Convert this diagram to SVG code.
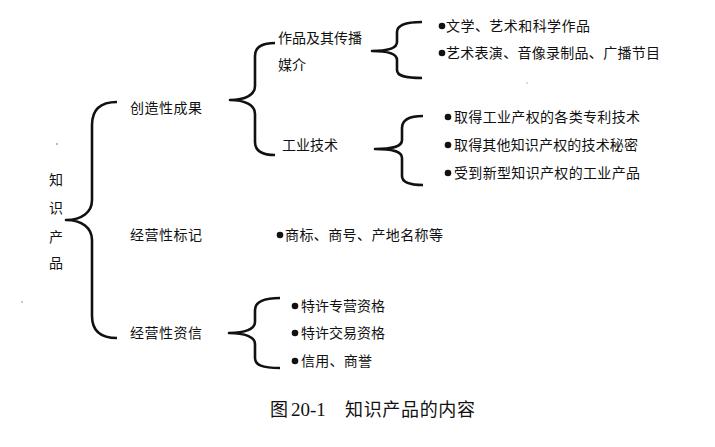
<svg xmlns="http://www.w3.org/2000/svg" width="715" height="447" viewBox="0 0 715 447">
<style>
.t{font-family:"Noto Sans CJK SC","Noto Sans CJK TC",sans-serif;font-size:14px;fill:#111}
.br{fill:none;stroke:#111;stroke-width:2.6;stroke-linecap:butt;stroke-linejoin:round}
.b{fill:#111}
.cap{font-family:"Noto Sans CJK SC",sans-serif;font-size:18px;fill:#111}
.num{font-family:"Liberation Serif",serif;font-size:19px;fill:#111}
</style>
<rect width="715" height="447" fill="#fff"/>
<g id="connectors">
<path class="br" d="M117,102 C100,102 92,110 92,125 L92,200 C92,212 82,220 66,220 C82,220 92,228 92,240 L92,316 C92,330 100,338 117,338"/>
<path class="br" d="M275,43 C262,43 255,47 255,56 L255,86 C255,95 245,100 230,100 C245,100 255,105 255,114 L255,142 C255,151 262,155 275,155"/>
<path class="br" d="M422,22 C405,22 397,25 397,32 L397,42 C397,48 390,51 372,51 C390,51 397,54 397,60 L397,70 C397,76 405,78 422,78"/>
<path class="br" d="M423,116 C408,116 402,120 402,128 L402,140 C402,146 395,149 375,149 C395,149 402,152 402,158 L402,176 C402,182 408,185 423,185"/>
<path class="br" d="M280,298 C262,298 255,302 255,310 L255,322 C255,329 245,333 229,333 C245,333 255,337 255,344 L255,358 C255,365 262,368 280,368"/>
</g>
<g id="root">
<text class="t" x="56" y="185" text-anchor="middle">知</text>
<text class="t" x="56" y="213" text-anchor="middle">识</text>
<text class="t" x="56" y="242" text-anchor="middle">产</text>
<text class="t" x="56" y="268" text-anchor="middle">品</text>
</g>
<g id="chuangzao"><text class="t" x="130" y="113" textLength="72" lengthAdjust="spacing">创造性成果</text></g>
<g id="biaoji"><text class="t" x="130" y="240" textLength="72" lengthAdjust="spacing">经营性标记</text></g>
<g id="zixin"><text class="t" x="130" y="338" textLength="72" lengthAdjust="spacing">经营性资信</text></g>
<g id="zuopin">
<text class="t" x="278" y="43" textLength="84" lengthAdjust="spacing">作品及其传播</text>
<text class="t" x="278" y="70">媒介</text>
</g>
<g id="gongye"><text class="t" x="282" y="150" textLength="56" lengthAdjust="spacing">工业技术</text></g>
<g id="item-wenxue"><circle class="b" cx="442" cy="26" r="3.3"/><text class="t" x="446" y="31" textLength="144" lengthAdjust="spacing">文学、艺术和科学作品</text></g>
<g id="item-yishu"><circle class="b" cx="442" cy="53" r="3.3"/><text class="t" x="446" y="58" textLength="214" lengthAdjust="spacing">艺术表演、音像录制品、广播节目</text></g>
<g id="item-zhuanli"><circle class="b" cx="448" cy="117" r="3.3"/><text class="t" x="454" y="122" textLength="186" lengthAdjust="spacing">取得工业产权的各类专利技术</text></g>
<g id="item-mimi"><circle class="b" cx="448" cy="145" r="3.3"/><text class="t" x="454" y="150" textLength="184" lengthAdjust="spacing">取得其他知识产权的技术秘密</text></g>
<g id="item-xinxing"><circle class="b" cx="448" cy="173" r="3.3"/><text class="t" x="454" y="178" textLength="186" lengthAdjust="spacing">受到新型知识产权的工业产品</text></g>
<g id="item-shangbiao"><circle class="b" cx="280" cy="235" r="3.3"/><text class="t" x="285" y="240" textLength="158" lengthAdjust="spacing">商标、商号、产地名称等</text></g>
<g id="item-zhuanying"><circle class="b" cx="295" cy="306" r="3.3"/><text class="t" x="301" y="311" textLength="84" lengthAdjust="spacing">特许专营资格</text></g>
<g id="item-jiaoyi"><circle class="b" cx="295" cy="333" r="3.3"/><text class="t" x="301" y="338" textLength="84" lengthAdjust="spacing">特许交易资格</text></g>
<g id="item-xinyong"><circle class="b" cx="295" cy="361" r="3.3"/><text class="t" x="301" y="366" textLength="71" lengthAdjust="spacing">信用、商誉</text></g>
<g id="caption">
<text class="cap" x="270" y="416">图</text>
<text class="num" x="291" y="416">20-1</text>
<text class="cap" x="345" y="416" textLength="130" lengthAdjust="spacing">知识产品的内容</text>
</g>
<g id="specks" fill="#666">
<circle cx="57" cy="144" r="0.8"/>
<circle cx="22" cy="302" r="0.7"/>
<circle cx="527" cy="83" r="0.6"/>
</g>
</svg>
